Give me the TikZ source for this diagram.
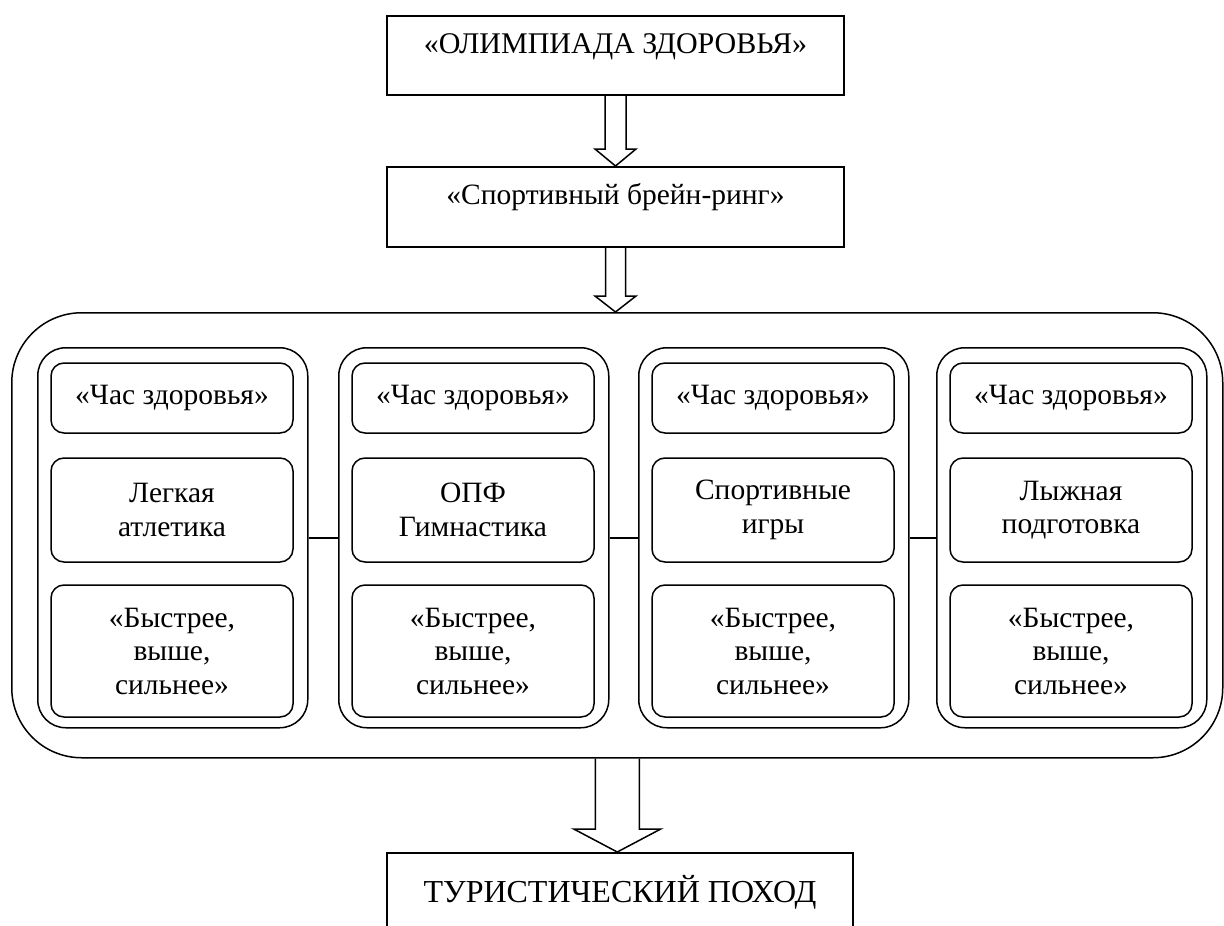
\documentclass[tikz,border=0pt]{standalone}
\usepackage{fontspec}
\setmainfont{Liberation Serif}
\usetikzlibrary{calc}
\newcommand\fatarrow[5]{%
  \draw let \p1=(#1), \p2=(#2) in
    (\x1-#3pt,\y1) -- (\x1-#3pt,\y2+#5pt) -- (\x1-#4pt,\y2+#5pt) -- (\x1,\y2)
    -- (\x1+#4pt,\y2+#5pt) -- (\x1+#3pt,\y2+#5pt) -- (\x1+#3pt,\y1);}
\newcommand\mkcol[3]{%
  \node[colbox, anchor=north west] (#1) at (#2,347) {};
  \node[cell, minimum height=70pt] (#1a) at (#2+135,398) {«Час здоровья»};
  \node[cell, minimum height=104pt] (#1b) at (#2+135,510) {#3};
  \node[cell, minimum height=132pt] (#1c) at (#2+135,651) {«Быстрее,\\выше,\\сильнее»};}
\begin{document}
\begin{tikzpicture}[x=1pt,y=-1pt, line width=1.5pt,
  sq/.style={draw, rectangle, inner xsep=0pt, inner ysep=0pt, anchor=north},
  bigbox/.style={draw, rounded corners=70pt, inner sep=0pt, minimum width=1211pt, minimum height=445pt},
  colbox/.style={draw, rounded corners=28pt, inner sep=0pt, minimum width=270pt, minimum height=380pt},
  cell/.style={draw, rounded corners=13pt, align=center, inner sep=0pt, minimum width=242pt,
    font=\fontsize{29.5}{33.5}\selectfont},
  link/.style={line width=1.5pt}]
\useasboundingbox (0,0) rectangle (1224,926);
\clip (0,0) rectangle (1224,926);
\fill[white] (0,0) rectangle (1224,926);

\node[sq, minimum width=457pt, text height=38pt, text depth=41pt, font=\fontsize{30}{34}\selectfont] (olymp) at (615.5,15) {«ОЛИМПИАДА ЗДОРОВЬЯ»};
\node[sq, minimum width=457pt, text height=38pt, text depth=42pt, font=\fontsize{29.5}{34}\selectfont] (brain) at (615.5,166) {«Спортивный брейн-ринг»};

\node[bigbox, anchor=north west] (all) at (11,312) {};

\mkcol{c1}{37}{Легкая\\атлетика}
\mkcol{c2}{338}{ОПФ\\Гимнастика}
\mkcol{c3}{638}{Спортивные\\игры}
\mkcol{c4}{936}{Лыжная\\подготовка}

\draw[link] (c1) -- (c2);
\draw[link] (c2) -- (c3);
\draw[link] (c3) -- (c4);

\node[sq, minimum width=466pt, text height=50pt, text depth=60pt, font=\fontsize{32}{38}\selectfont] (hike) at (620,852) {ТУРИСТИЧЕСКИЙ ПОХОД};

\fatarrow{olymp.south}{brain.north}{10.5}{20.5}{17}
\fatarrow{brain.south}{all.north}{10}{20.5}{16}
\fatarrow{all.south}{hike.north}{22}{43.5}{23}
\end{tikzpicture}
\end{document}
